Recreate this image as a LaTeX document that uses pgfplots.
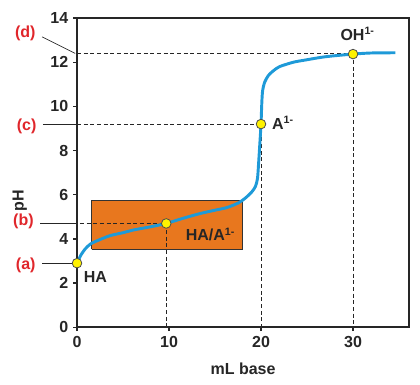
\documentclass[border=0pt]{standalone}
\usepackage{fontspec}
\setmainfont{Liberation Sans}
\usepackage{pgfplots}
\pgfplotsset{compat=1.18}
\definecolor{curveblue}{HTML}{1E9AD8}
\definecolor{boxorange}{HTML}{E8771E}
\definecolor{labred}{HTML}{E0262B}
\definecolor{ptyellow}{HTML}{FFF200}
\begin{document}
\begin{tikzpicture}
\begin{axis}[
  scale only axis, width=249pt, height=231.75pt,
  xmin=0, xmax=36.1, ymin=0, ymax=14,
  xtick={0,10,20,30}, ytick={0,2,4,6,8,10,12,14},
  tick align=outside, tick pos=left,
  major tick length=3pt,
  axis line style={line width=1.1pt, black!85},
  every tick/.style={line width=1pt, black!85},
  tick label style={font=\fontsize{12}{14}\selectfont\bfseries, text=black!85},
  /pgf/number format/assume math mode=true,
  xlabel={\bfseries mL base}, ylabel={\bfseries pH},
  label style={font=\fontsize{12}{14}\selectfont, text=black!85},
  xlabel style={at={(axis description cs:0.5,-0.133)}, anchor=center},
  ylabel style={at={(axis description cs:-0.172,0.41)}, anchor=center},
  clip=false,
]
% page frame (invisible)
\path (axis cs:-8.37,-2.58) rectangle (axis cs:37.28,14.82);
% orange region
\addplot[draw=black!80, line width=0.7pt, fill=boxorange] coordinates {(1.6,3.53) (18,3.53) (18,5.72) (1.6,5.72) (1.6,3.53)};
% dashed guide lines
\addplot[black!85, densely dashed, line width=0.6pt] coordinates {(-0.4,4.7) (9.7,4.7)};
\addplot[black!85, densely dashed, line width=0.6pt] coordinates {(9.7,4.7) (9.7,0)};
\addplot[black!85, densely dashed, line width=0.6pt] coordinates {(0,9.2) (20,9.2)};
\addplot[black!85, densely dashed, line width=0.6pt] coordinates {(20,9.2) (20,0)};
\addplot[black!85, densely dashed, line width=0.6pt] coordinates {(0,12.4) (30,12.4)};
\addplot[black!85, densely dashed, line width=0.6pt] coordinates {(30,12.4) (30,0)};
% leader lines
\addplot[black!85, line width=0.5pt] coordinates {(-3.8,2.9) (0,2.9)};
\addplot[black!85, line width=0.5pt] coordinates {(-4.0,4.7) (-0.4,4.7)};
\addplot[black!85, line width=0.5pt] coordinates {(-3.7,9.2) (0,9.2)};
\addplot[black!85, line width=0.5pt] coordinates {(-3.8,13.15) (-0.2,12.4)};
% titration curve
\addplot[curveblue, line width=2.2pt, smooth, tension=0.45] coordinates {
(0,2.9) (0.4,3.25) (0.9,3.55) (1.5,3.78) (2.5,3.97) (3.6,4.15) (5,4.28) (6.1,4.4)
(8,4.55) (9.7,4.7) (11.5,4.93) (13.4,5.15) (15,5.3) (16.3,5.42) (17.5,5.62)
(18.3,5.85) (19,6.13) (19.4,6.38) (19.62,6.75) (19.75,7.5) (19.87,8.3) (20,9.2)
(20.08,10.1) (20.17,10.7) (20.4,11.1) (20.8,11.4) (21.3,11.6) (22,11.8) (23.5,12.0)
(24.8,12.1) (27,12.25) (30,12.37) (32,12.42) (34.6,12.43)};
% points
\addplot[only marks, mark=*, mark size=3.6pt, mark options={fill=ptyellow, draw=black!70, line width=0.6pt}]
 coordinates {(0,2.9) (9.7,4.7) (20,9.2) (30,12.37)};
% labels
\node[anchor=east, text=labred, font=\fontsize{12}{14}\selectfont\bfseries] at (axis cs:-4.0,2.8) {(a)};
\node[anchor=east, text=labred, font=\fontsize{12}{14}\selectfont\bfseries] at (axis cs:-4.2,4.8) {(b)};
\node[anchor=east, text=labred, font=\fontsize{12}{14}\selectfont\bfseries] at (axis cs:-3.9,9.1) {(c)};
\node[anchor=east, text=labred, font=\fontsize{12}{14}\selectfont\bfseries] at (axis cs:-4.0,13.3) {(d)};
\node[text=black!85, font=\fontsize{12}{14}\selectfont\bfseries] at (axis cs:2.0,2.27) {HA};
\node[text=black!85, font=\fontsize{12}{14}\selectfont\bfseries] at (axis cs:14.5,4.2) {HA/A\textsuperscript{1-}};
\node[anchor=west, text=black!85, font=\fontsize{12}{14}\selectfont\bfseries] at (axis cs:20.7,9.25) {A\textsuperscript{1-}};
\node[text=black!85, font=\fontsize{12}{14}\selectfont\bfseries] at (axis cs:30.5,13.3) {OH\textsuperscript{1-}};
\end{axis}
\end{tikzpicture}
\end{document}
